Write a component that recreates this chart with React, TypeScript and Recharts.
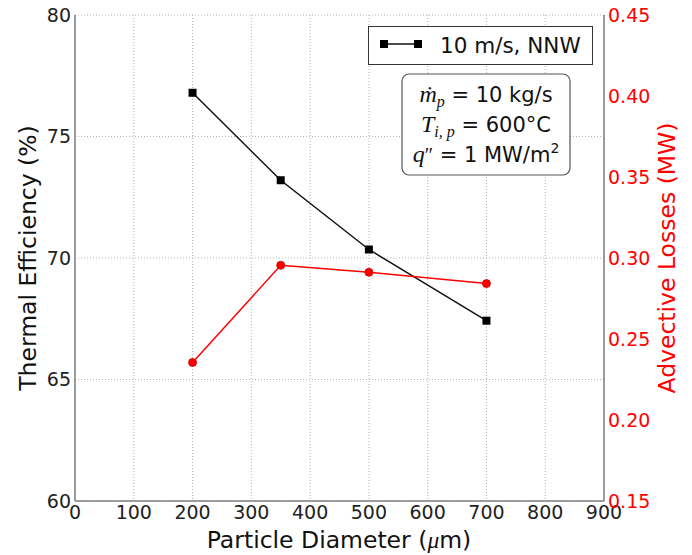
import React from 'react';
import { ComposedChart, Line, XAxis, YAxis, CartesianGrid, Legend } from 'recharts';

const diameters = [200, 350, 500, 700];
const efficiency = [76.8, 73.2, 70.35, 67.42];
const advectiveLosses = [0.2355, 0.2955, 0.2912, 0.2842];
const xTicks = [0, 100, 200, 300, 400, 500, 600, 700, 800, 900];
const leftTicks = [60, 65, 70, 75, 80];
const rightTicks = [0.15, 0.2, 0.25, 0.3, 0.35, 0.4, 0.45];
const legendLabel = '10 m/s, NNW';

const data = diameters.map((d, i) => ({ d, eff: efficiency[i], adv: advectiveLosses[i] }));

const FONT = '"DejaVu Sans", sans-serif';
const MATH = '"Liberation Serif", "DejaVu Serif", serif';
const FRAME = '#7f7f7f';

const Square = (props: any) => {
  const { cx, cy } = props;
  if (cx == null || cy == null) return null;
  return <rect x={cx - 4} y={cy - 4} width={8} height={8} fill="#000" />;
};

const RedDot = (props: any) => {
  const { cx, cy } = props;
  if (cx == null || cy == null) return null;
  return <circle cx={cx} cy={cy} r={4} fill="#ff0000" stroke="#c00000" strokeWidth={0.8} />;
};

const LegendBox = () => (
  <svg width={226} height={40} style={{ display: 'block' }}>
    <rect x={0.5} y={0.5} width={224} height={38} fill="#fff" stroke="#333" strokeWidth={1} />
    <line x1={16} y1={18} x2={50} y2={18} stroke="#111" strokeWidth={1.5} />
    <rect x={12} y={14} width={8} height={8} fill="#000" />
    <rect x={46} y={14} width={8} height={8} fill="#000" />
    <text x={72} y={27} fontSize={21.5} fontFamily={FONT} fill="#111">{legendLabel}</text>
  </svg>
);

export default function App() {
  return (
    <div style={{ position: 'absolute', left: 0, top: 0, width: 692, height: 555, background: '#fff' }}>
      <ComposedChart width={692} height={555} data={data} margin={{ top: 15, right: 0, bottom: 0, left: 0 }}>
        <CartesianGrid xAxisId="bottom" yAxisId="left" stroke="#b5b5b5" strokeDasharray="1 2" strokeWidth={1} />
        <XAxis
          xAxisId="bottom"
          dataKey="d"
          type="number"
          domain={[0, 900]}
          ticks={xTicks}
          height={54}
          tickLine={false}
          tickSize={0}
          tickMargin={5}
          axisLine={{ stroke: FRAME, strokeWidth: 1.5 }}
          tick={{ fontSize: 19, fontFamily: FONT, fill: '#222' }}
          allowDataOverflow
        />
        <XAxis
          xAxisId="top"
          orientation="top"
          type="number"
          domain={[0, 900]}
          height={0}
          tick={false}
          tickLine={false}
          axisLine={{ stroke: FRAME, strokeWidth: 1.5 }}
        />
        <YAxis
          yAxisId="left"
          type="number"
          domain={[60, 80]}
          ticks={leftTicks}
          width={75}
          tickLine={false}
          tickSize={0}
          tickMargin={4}
          axisLine={{ stroke: FRAME, strokeWidth: 1.5 }}
          tick={{ fontSize: 19, fontFamily: FONT, fill: '#222' }}
          allowDataOverflow
        />
        <YAxis
          yAxisId="right"
          orientation="right"
          type="number"
          domain={[0.15, 0.45]}
          ticks={rightTicks}
          tickFormatter={(v: number) => v.toFixed(2)}
          width={88}
          tickLine={false}
          tickSize={0}
          tickMargin={4}
          axisLine={{ stroke: FRAME, strokeWidth: 1.5 }}
          tick={{ fontSize: 19, fontFamily: FONT, fill: '#ff0000' }}
          allowDataOverflow
        />
        <Legend
          verticalAlign="middle"
          align="center"
          content={() => <LegendBox />}
          wrapperStyle={{ position: 'absolute', left: 368, top: 26, width: 226, height: 40 }}
        />
        <Line
          xAxisId="bottom"
          yAxisId="left"
          dataKey="eff"
          name={legendLabel}
          stroke="#111"
          strokeWidth={1.5}
          dot={<Square />}
          activeDot={false}
          isAnimationActive={false}
        />
        <Line
          xAxisId="bottom"
          yAxisId="right"
          dataKey="adv"
          name="Advective Losses"
          stroke="#ff0000"
          strokeWidth={1.5}
          dot={<RedDot />}
          activeDot={false}
          legendType="none"
          isAnimationActive={false}
        />
      </ComposedChart>
      <svg
        width={692}
        height={555}
        style={{ position: 'absolute', left: 0, top: 0, pointerEvents: 'none' }}
      >
        <text transform="translate(36,258) rotate(-90)" textAnchor="middle" fontSize={23.5} fontFamily={FONT} fill="#111">
          Thermal Efficiency (%)
        </text>
        <text transform="translate(675,258) rotate(-90)" textAnchor="middle" fontSize={23.5} fontFamily={FONT} fill="#ff0000">
          Advective Losses (MW)
        </text>
        <text x={339} y={548} textAnchor="middle" fontSize={23.5} fontFamily={FONT} fill="#111">
          Particle Diameter (<tspan fontFamily={MATH} fontStyle="italic">μ</tspan>m)
        </text>
        <rect x={402} y={74} width={168} height={101} rx={7} ry={7} fill="#fff" stroke="#555" strokeWidth={1.2} />
        <text x={486} y={102} textAnchor="middle" fontSize={21} fontFamily={FONT} fill="#111">
          <tspan fontFamily={MATH} fontStyle="italic" fontSize={24}>ṁ</tspan>
          <tspan fontFamily={MATH} fontStyle="italic" fontSize={16} dy={5}>p</tspan>
          <tspan dy={-5}> = 10 kg/s</tspan>
        </text>
        <text x={486} y={132} textAnchor="middle" fontSize={21} fontFamily={FONT} fill="#111">
          <tspan fontFamily={MATH} fontStyle="italic" fontSize={24}>T</tspan>
          <tspan fontFamily={MATH} fontStyle="italic" fontSize={16} dy={5}>i, p</tspan>
          <tspan dy={-5}> = 600°C</tspan>
        </text>
        <text x={486} y={162} textAnchor="middle" fontSize={21} fontFamily={FONT} fill="#111">
          <tspan fontFamily={MATH} fontStyle="italic" fontSize={24}>q</tspan>
          <tspan fontFamily={MATH} fontSize={20}>″</tspan>
          <tspan> = 1 MW/m</tspan>
          <tspan fontSize={14} dy={-9}>2</tspan>
        </text>
      </svg>
    </div>
  );
}
